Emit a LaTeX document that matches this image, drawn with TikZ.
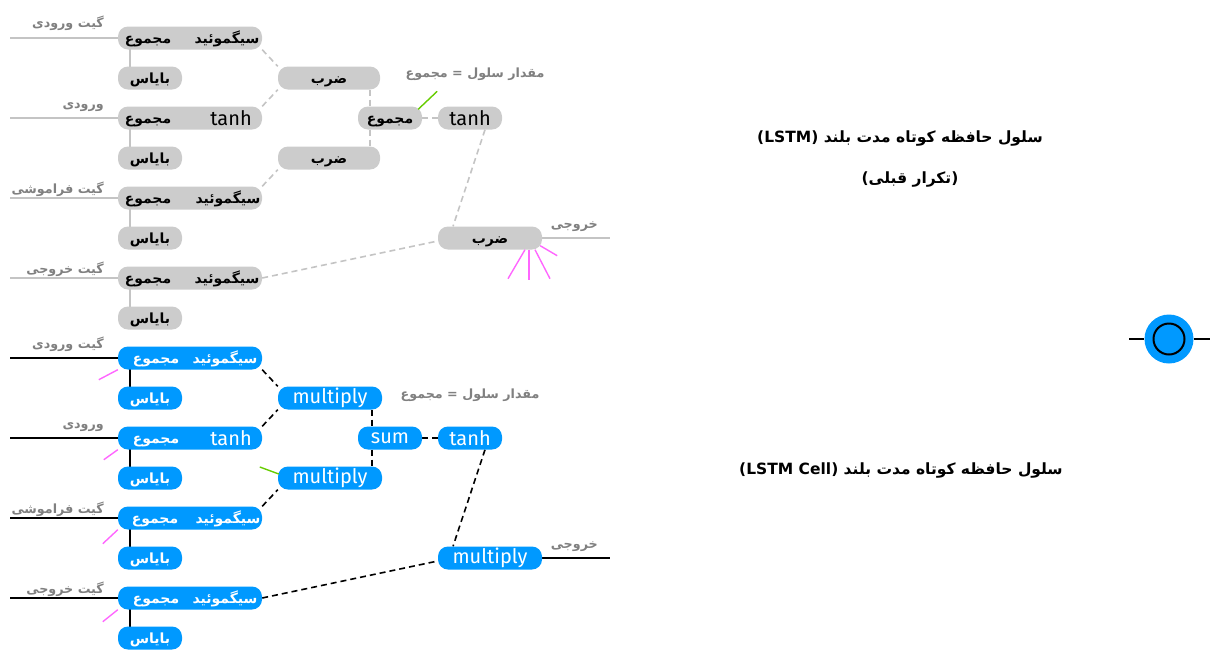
\documentclass[tikz,border=0pt]{standalone}
\usepackage{fontspec}
\usetikzlibrary{backgrounds}
\TeXXeTstate=1
\newfontfamily\arb[Script=Arabic]{DejaVu Sans}
\newfontfamily\lat{Fira Sans}
\definecolor{pillgray}{RGB}{204,204,204}
\definecolor{pillblue}{RGB}{0,153,255}
\definecolor{linegray}{RGB}{196,196,196}
\definecolor{labgray}{RGB}{128,128,128}
\definecolor{pinkline}{RGB}{255,102,255}
\definecolor{greenline}{RGB}{102,204,0}
\newcommand{\fatxt}[1]{\raisebox{-3pt}{\arb\bfseries\fontsize{14}{16}\selectfont\beginR #1\endR}}
\newcommand{\labtxt}[1]{\raisebox{-3pt}{\arb\bfseries\fontsize{12.7}{15}\selectfont\beginR #1\endR}}
\newcommand{\latxt}[1]{{\lat\fontsize{20}{22}\selectfont #1}}
\newcommand{\ttlfont}{\arb\bfseries\fontsize{15.5}{18}\selectfont}

\begin{document}
\begin{tikzpicture}[x=1pt,y=-1pt]
 \tikzset{gpill/.style = {fill=pillgray, rounded corners=10pt, minimum height=23pt, inner sep=0pt, text=black}}
 \tikzset{bpill/.style = {gpill, fill=pillblue, text=white}}
 \tikzset{fa/.style = {text height=7pt, text depth=2pt}}
 \tikzset{gline/.style = {draw=linegray, line width=1.4pt}}
 \tikzset{bline/.style = {draw=black, line width=1.8pt}}
 \tikzset{gedge/.style = {draw=linegray, line width=1.6pt, dash pattern=on 6pt off 4pt}}
 \tikzset{bedge/.style = {draw=black, line width=1.6pt, dash pattern=on 6pt off 4pt}}
 \tikzset{lab/.style = {fa, text=labgray, inner sep=0pt}}
 \tikzset{pinkedge/.style = {draw=pinkline, line width=1.4pt}}
 \useasboundingbox (0,0) rectangle (1216,657);

 % repeated cell (gray)
 \node[gpill, minimum width=144] (gr1) at (190,38) {};
 \node[fa] (gr1a) at (148,38) {\fatxt{مجموع}};
 \node[fa] (gr1b) at (227,38) {\fatxt{سیگموئید}};
 \node[gpill, fa, minimum width=64] (gb1) at (150,78) {\fatxt{بایاس}};
 \node[gpill, minimum width=144] (gr2) at (190,118) {};
 \node[fa] (gr2a) at (148,118) {\fatxt{مجموع}};
 \node (gr2b) at (231,118) {\latxt{tanh}};
 \node[gpill, fa, minimum width=64] (gb2) at (150,158) {\fatxt{بایاس}};
 \node[gpill, minimum width=144] (gr3) at (190,198) {};
 \node[fa] (gr3a) at (148,198) {\fatxt{مجموع}};
 \node[fa] (gr3b) at (228,198) {\fatxt{سیگموئید}};
 \node[gpill, fa, minimum width=64] (gb3) at (150,238) {\fatxt{بایاس}};
 \node[gpill, minimum width=144] (gr4) at (190,278) {};
 \node[fa] (gr4a) at (148,278) {\fatxt{مجموع}};
 \node[fa] (gr4b) at (227,278) {\fatxt{سیگموئید}};
 \node[gpill, fa, minimum width=64] (gb4) at (150,318) {\fatxt{بایاس}};
 \node[gpill, fa, minimum width=102] (gm1) at (329,78) {\fatxt{ضرب}};
 \node[gpill, fa, minimum width=102] (gm2) at (329,158) {\fatxt{ضرب}};
 \node[gpill, fa, minimum width=64] (gs) at (390,118) {\fatxt{مجموع}};
 \node[gpill, minimum width=64] (gt) at (470,118) {\latxt{tanh}};
 \node[gpill, fa, minimum width=104] (go) at (490,238) {\fatxt{ضرب}};
 \node[lab, anchor=east] (gl1) at (104,22) {\labtxt{گیت ورودی}};
 \node[lab, anchor=east] (gl2) at (104,103) {\labtxt{ورودی}};
 \node[lab, anchor=east] (gl3) at (104,188) {\labtxt{گیت فراموشی}};
 \node[lab, anchor=east] (gl4) at (104,268) {\labtxt{گیت خروجی}};
 \node[lab] (gcell) at (475,72) {\labtxt{مقدار سلول = مجموع}};
 \node[lab, anchor=east] (gol) at (598,223) {\labtxt{خروجی}};
 \coordinate (gin1) at (10,38);
 \coordinate (gin2) at (10,118);
 \coordinate (gin3) at (10,198);
 \coordinate (gin4) at (10,278);
 \coordinate (gout) at (610,238);

 % cell (blue)
 \node[bpill, minimum width=144] (br1) at (190,358) {};
 \node[fa, text=white] (br1a) at (156,358) {\fatxt{مجموع}};
 \node[fa, text=white] (br1b) at (225,358) {\fatxt{سیگموئید}};
 \node[bpill, fa, minimum width=64] (bb1) at (150,398) {\fatxt{بایاس}};
 \node[bpill, minimum width=144] (br2) at (190,438) {};
 \node[fa, text=white] (br2a) at (156,438) {\fatxt{مجموع}};
 \node[text=white] (br2b) at (231,438) {\latxt{tanh}};
 \node[bpill, fa, minimum width=64] (bb2) at (150,478) {\fatxt{بایاس}};
 \node[bpill, minimum width=144] (br3) at (190,518) {};
 \node[fa, text=white] (br3a) at (155,518) {\fatxt{مجموع}};
 \node[fa, text=white] (br3b) at (228,518) {\fatxt{سیگموئید}};
 \node[bpill, fa, minimum width=64] (bb3) at (150,558) {\fatxt{بایاس}};
 \node[bpill, minimum width=144] (br4) at (190,598) {};
 \node[fa, text=white] (br4a) at (156,598) {\fatxt{مجموع}};
 \node[fa, text=white] (br4b) at (225,598) {\fatxt{سیگموئید}};
 \node[bpill, fa, minimum width=64] (bb4) at (150,638) {\fatxt{بایاس}};
 \node[bpill, minimum width=104] (bm1) at (330,398) {\latxt{multiply}};
 \node[bpill, minimum width=104] (bm2) at (330,478) {\latxt{multiply}};
 \node[bpill, minimum width=64] (bs) at (390,438) {\latxt{sum}};
 \node[bpill, minimum width=64] (bt) at (470,438) {\latxt{tanh}};
 \node[bpill, minimum width=104] (bo) at (490,558) {\latxt{multiply}};
 \node[lab, anchor=east] (bl1) at (104,343) {\labtxt{گیت ورودی}};
 \node[lab, anchor=east] (bl2) at (104,423) {\labtxt{ورودی}};
 \node[lab, anchor=east] (bl3) at (104,508) {\labtxt{گیت فراموشی}};
 \node[lab, anchor=east] (bl4) at (104,588) {\labtxt{گیت خروجی}};
 \node[lab] (bcell) at (470,393) {\labtxt{مقدار سلول = مجموع}};
 \node[lab, anchor=east] (bol) at (598,543) {\labtxt{خروجی}};
 \coordinate (bin1) at (10,358);
 \coordinate (bin2) at (10,438);
 \coordinate (bin3) at (10,518);
 \coordinate (bin4) at (10,598);
 \coordinate (bout) at (610,558);

 % titles and symbol
 \node[fa] (t1) at (900,140) {\ttlfont\beginR سلول حافظه کوتاه مدت بلند \beginL(LSTM)\endL\endR};
 \node[fa] (t2) at (910,181) {\ttlfont)\beginR تکرار قبلی\endR(};
 \node[fa] (t3) at (901,472) {\ttlfont\beginR سلول حافظه کوتاه مدت بلند \beginL(LSTM Cell)\endL\endR};
 \node[circle, fill=pillblue, minimum size=49pt] (sym) at (1169,339) {};
 \node[circle, draw=black, line width=2pt, minimum size=31pt] (symin) at (sym) {};
 \coordinate (syml) at (1129,339);
 \coordinate (symr) at (1210,339);
 \draw[bline] (syml) -- (sym.west);
 \draw[bline] (sym.east) -- (symr);

 \begin{pgfonlayer}{background}
 \draw[gline] (gin1) -- (gr1.west);
 \draw[gline] (gin2) -- (gr2.west);
 \draw[gline] (gin3) -- (gr3.west);
 \draw[gline] (gin4) -- (gr4.west);
 \draw[gline] ([xshift=12pt]gr1.west) -- ([xshift=12pt]gb1.west);
 \draw[gline] ([xshift=12pt]gr2.west) -- ([xshift=12pt]gb2.west);
 \draw[gline] ([xshift=12pt]gr3.west) -- ([xshift=12pt]gb3.west);
 \draw[gline] ([xshift=12pt]gr4.west) -- ([xshift=12pt]gb4.west);
 \draw[gline] (go.east) -- (gout);
 \draw[gedge] (gr1.south east) -- (gm1.north west);
 \draw[gedge] (gr2.north east) -- (gm1.south west);
 \draw[gedge] (gr3.north east) -- (gm2.south west);
 \draw[gedge] ([xshift=-10pt]gm1.south east) -- ([xshift=-10pt]gm2.north east);
 \draw[gedge] (gs.east) -- (gt.west);
 \draw[gedge] ([xshift=15pt]gt.south) -- ([xshift=-37pt]go.north);
 \draw[gedge] (gr4.east) -- ([yshift=-3pt]go.west);

 \draw[bline] (bin1) -- (br1.west);
 \draw[bline] (bin2) -- (br2.west);
 \draw[bline] (bin3) -- (br3.west);
 \draw[bline] (bin4) -- (br4.west);
 \draw[bline] ([xshift=12pt]br1.west) -- ([xshift=12pt]bb1.west);
 \draw[bline] ([xshift=12pt]br2.west) -- ([xshift=12pt]bb2.west);
 \draw[bline] ([xshift=12pt]br3.west) -- ([xshift=12pt]bb3.west);
 \draw[bline] ([xshift=12pt]br4.west) -- ([xshift=12pt]bb4.west);
 \draw[bline] (bo.east) -- (bout);
 \draw[bedge] (br1.south east) -- (bm1.north west);
 \draw[bedge] (br2.north east) -- (bm1.south west);
 \draw[bedge] (br3.north east) -- (bm2.south west);
 \draw[bedge] ([xshift=-10pt]bm1.south east) -- ([xshift=-10pt]bm2.north east);
 \draw[bedge] (bs.east) -- (bt.west);
 \draw[bedge] ([xshift=15pt]bt.south) -- ([xshift=-37pt]bo.north);
 \draw[bedge] (br4.east) -- ([yshift=-3pt]bo.west);
 \end{pgfonlayer}

 % stray marks
 \draw[draw=greenline, line width=1.4pt] (gs.north east) ++(-4,3) -- ++(19,-18);
 \draw[draw=greenline, line width=1.4pt] (bm2.west) ++(1,-4) -- ++(-19,-7);
 \draw[pinkedge] ([xshift=35pt]go.south) -- ++(-17,29);
 \draw[pinkedge] ([xshift=39pt]go.south) -- ++(0,30);
 \draw[pinkedge] ([xshift=45pt]go.south) -- ++(15,29);
 \draw[pinkedge] (go.south east) ++(-2,-4) -- ++(17,10);
 \draw[pinkedge] (br1.south west) -- ++(-19,10);
 \draw[pinkedge] (br2.south west) -- ++(-14,10);
 \draw[pinkedge] (br3.south west) -- ++(-15,14);
 \draw[pinkedge] (br4.south west) -- ++(-15,12);
\end{tikzpicture}
\end{document}
